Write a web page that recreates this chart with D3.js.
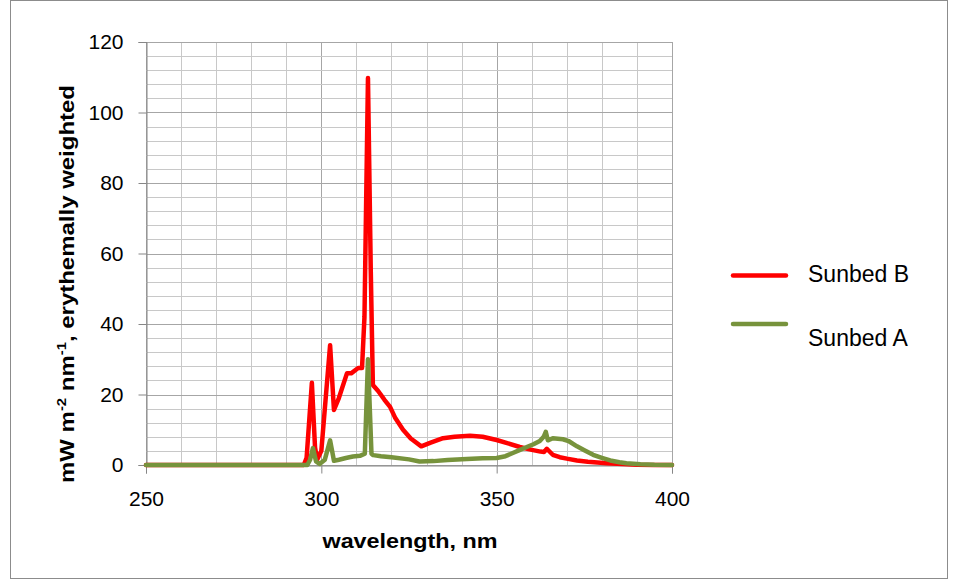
<!DOCTYPE html>
<html><head><meta charset="utf-8">
<script src="https://cdn.jsdelivr.net/npm/d3@7"></script>
<style>body{margin:0;background:#fff}svg{display:block}</style>
</head><body>
<script>
const wavelengthB = [250,280,295,295.8,297.3,298.2,298.8,300,302.5,303.6,305,307.3,308.5,310.5,311.6,312.3,313.3,314.1,314.7,316.2,318,319.6,321,323.3,325.5,328.5,331,334.7,338,342.4,346,350,353,356.6,360,362.5,363.5,364.3,365,366,368,370,372.9,376,381.4,386,390,395,400];
const sunbedB =     [0,  0,  0,  2,    23.3, 5,    1.5,  4,  34,   15.6, 19,  26,   26,   27.5, 27.5, 42,   109.8,55, 22.7, 21,  18.5,16.5, 13.5,10,   7.5,  5.3,  6.3,7.6, 8,  8.3,  8,  7.1,6.2,5.1, 4.3,3.8,  3.7,  4.6,  3.9,2.9,2.2,1.8,1.3,0.9,0.5,0.25,0.1,0.03,0];
const wavelengthA = [250,280,296,296.8,297.6,298.5,299.5,301,302.5,303.6,305,307,309,311,312.4,313.3,314.3,314.8,317,320,325,328,332,336,341.5,346,350,352.5,354.6,356.5,358.6,360.5,362.3,363.4,364,364.6,366,368.9,370.5,372.9,375,377.5,380,382.4,385,387,391,395,400];
const sunbedA =     [0,  0,  0,  1.5,  4.8,  1,    0.3,  1.5,7,    1.2,  1.5,2,  2.4,2.6,3.2,  30,   3.2,  2.8,  2.5,2.2,1.6,1.0,1.1,1.4,1.7,  1.9,2.0,2.5,3.4,  4.2,  5.1,  5.9,  6.8,  8,    9.4,7,    7.6,7.3,  6.8,  5.3,  4.2,2.9,  2,  1.3,  0.8,0.5,0.2,0.05,0];
const xTicks = [250,300,350,400];
const yTicks = [0,20,40,60,80,100,120];
const seriesNames = ["Sunbed B","Sunbed A"];
const seriesColors = ["#ff0000","#77933c"];

const W=958,H=581;
const FONT="'Liberation Sans', Arial, sans-serif";
const svg=d3.select("body").append("svg").attr("width",W).attr("height",H);
svg.append("rect").attr("x",10.5).attr("y",0.5).attr("width",937).attr("height",578)
  .attr("fill","#fff").attr("stroke","#8c8c8c").attr("stroke-width",1);

const x=d3.scaleLinear().domain([250,400]).range([146,672]);
const y=d3.scaleLinear().domain([0,120]).range([465,42]);

const g=svg.append("g");
d3.range(250,401,10).forEach(v=>{
  g.append("line").attr("x1",Math.round(x(v))+0.5).attr("x2",Math.round(x(v))+0.5)
   .attr("y1",y(120)).attr("y2",y(0))
   .attr("stroke", v%50===0?"#a6a6a6":"#c8c8c8").attr("stroke-width",1);
});
d3.range(0,121,4).forEach(v=>{
  g.append("line").attr("x1",x(250)).attr("x2",x(400))
   .attr("y1",Math.round(y(v))+0.5).attr("y2",Math.round(y(v))+0.5)
   .attr("stroke", v%20===0?"#a6a6a6":"#c8c8c8").attr("stroke-width",1);
});

const yAxis=d3.axisLeft(y).tickValues(yTicks).tickSize(8).tickPadding(15).tickFormat(d3.format("d"));
const ya=svg.append("g").attr("transform",`translate(${Math.round(x(250))+0.5},0)`).call(yAxis);
const xAxis=d3.axisBottom(x).tickValues(xTicks).tickSize(8).tickPadding(18).tickFormat(d3.format("d"));
const xa=svg.append("g").attr("transform",`translate(0,${Math.round(y(0))+0.5})`).call(xAxis);
[ya,xa].forEach(a=>{
  a.select(".domain").attr("stroke","#868686");
  a.selectAll(".tick line").attr("stroke","#868686");
  a.selectAll(".tick text").attr("fill","#000").attr("font-family",FONT).attr("font-size",21);
});

const line=d3.line().x(d=>x(d[0])).y(d=>y(d[1]));
const dataA=wavelengthA.map((w,i)=>[w,sunbedA[i]]);
const dataB=wavelengthB.map((w,i)=>[w,sunbedB[i]]);
svg.append("path").datum(dataB).attr("d",line).attr("fill","none")
  .attr("stroke",seriesColors[0]).attr("stroke-width",4.5).attr("stroke-linejoin","round").attr("stroke-linecap","round");
svg.append("path").datum(dataA).attr("d",line).attr("fill","none")
  .attr("stroke",seriesColors[1]).attr("stroke-width",4.5).attr("stroke-linejoin","round").attr("stroke-linecap","round");

svg.append("text").attr("x",410).attr("y",548).attr("text-anchor","middle")
  .attr("font-family",FONT).attr("font-weight","bold").attr("font-size",21)
  .attr("textLength",175).attr("lengthAdjust","spacingAndGlyphs")
  .text("wavelength, nm");
const yt=svg.append("text").attr("transform","translate(74,284) rotate(-90)").attr("text-anchor","middle")
  .attr("font-family",FONT).attr("font-weight","bold").attr("font-size",21)
  .attr("textLength",398).attr("lengthAdjust","spacingAndGlyphs");
yt.append("tspan").text("mW m");
yt.append("tspan").attr("dy",-8).attr("font-size",13).text("-2");
yt.append("tspan").attr("dy",8).text(" nm");
yt.append("tspan").attr("dy",-8).attr("font-size",13).text("-1");
yt.append("tspan").attr("dy",8).text(", erythemally weighted");

const leg=[{n:seriesNames[0],c:seriesColors[0],ly:275.5,ty:282},{n:seriesNames[1],c:seriesColors[1],ly:324,ty:346}];
leg.forEach(l=>{
  svg.append("line").attr("x1",733).attr("x2",786).attr("y1",l.ly).attr("y2",l.ly)
    .attr("stroke",l.c).attr("stroke-width",4.5).attr("stroke-linecap","round");
  svg.append("text").attr("x",808).attr("y",l.ty).attr("font-family",FONT)
    .attr("font-size",23).attr("fill","#000").text(l.n);
});
</script>
</body></html>
